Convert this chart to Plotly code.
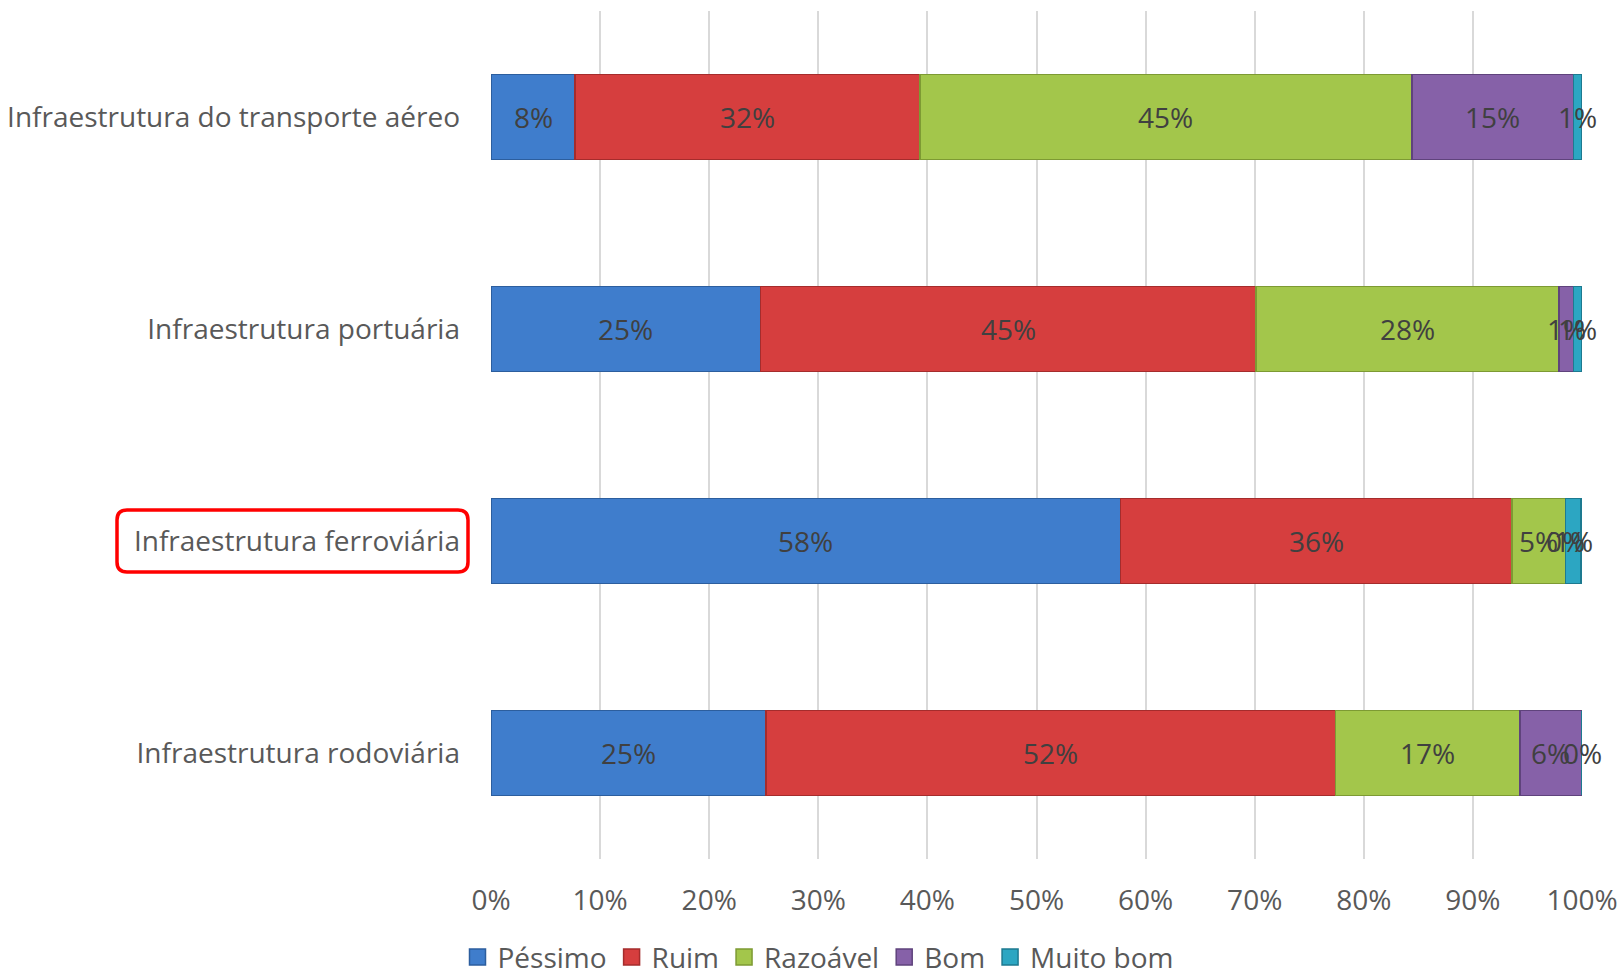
import plotly.graph_objects as go

# Survey: perceived quality of transport infrastructure (share of answers)
categories = [
    "Infraestrutura do transporte aéreo",
    "Infraestrutura portuária",
    "Infraestrutura ferroviária",
    "Infraestrutura rodoviária",
]
series_names = ["Péssimo", "Ruim", "Razoável", "Bom", "Muito bom"]
pessimo = [0.077, 0.247, 0.577, 0.252]
ruim = [0.316, 0.454, 0.359, 0.522]
razoavel = [0.451, 0.278, 0.049, 0.169]
bom = [0.148, 0.013, 0.000, 0.057]
muito_bom = [0.008, 0.008, 0.014, 0.000]
x_ticks = [0, 0.1, 0.2, 0.3, 0.4, 0.5, 0.6, 0.7, 0.8, 0.9, 1.0]

series_values = [pessimo, ruim, razoavel, bom, muito_bom]
fills = ["#3F7DCC", "#D63E3E", "#A3C64B", "#8661A8", "#2CA6C2"]
edges = ["#2C5E9E", "#A52C2C", "#7D9A33", "#5F437C", "#1D7A90"]

FONT = "Open Sans"
TEXT = "#404040"
LABEL = "#595959"
FS = 28
W, H = 1621, 975
ML, MR, MT, MB = 491, 39, 11, 116

fig = go.Figure()
for name, vals, fc, ec in zip(series_names, series_values, fills, edges):
    fig.add_trace(go.Bar(
        y=categories, x=vals, name=name, orientation="h",
        marker=dict(color=fc, line=dict(color=ec, width=1.5)),
        hoverinfo="x+name", showlegend=False,
    ))
# legend entries with larger square swatches
for name, fc, ec in zip(series_names, fills, edges):
    fig.add_trace(go.Scatter(
        x=[None], y=[None], mode="markers", name=name,
        marker=dict(symbol="square", size=17, color=fc, line=dict(color=ec, width=1.5)),
    ))

# value labels centred on each stacked segment (also for zero-width ones)
annotations = []
for ci, cat in enumerate(categories):
    left = 0.0
    for vals in series_values:
        v = vals[ci]
        annotations.append(dict(
            x=left + v / 2, y=cat, xref="x", yref="y",
            text=f"{round(v * 100):.0f}%", showarrow=False,
            font=dict(family=FONT, size=FS, color=TEXT),
        ))
        left += v

# rounded red frame highlighting the railway category label
pw = W - ML - MR
ph = H - MT - MB
band = ph / len(categories)
x0, x1 = (117 - ML) / pw, (468 - ML) / pw
yc = 1
hy = 31 / band
rx, ry = 10 / pw, 10 / band
y0, y1 = yc - hy, yc + hy
path = (f"M {x0 + rx} {y0} L {x1 - rx} {y0} Q {x1} {y0} {x1} {y0 + ry} "
        f"L {x1} {y1 - ry} Q {x1} {y1} {x1 - rx} {y1} "
        f"L {x0 + rx} {y1} Q {x0} {y1} {x0} {y1 - ry} "
        f"L {x0} {y0 + ry} Q {x0} {y0} {x0 + rx} {y0} Z")

fig.update_layout(
    width=W, height=H,
    barmode="stack", bargap=0.6,
    paper_bgcolor="white", plot_bgcolor="white",
    margin=dict(l=ML, r=MR, t=MT, b=MB, autoexpand=False),
    font=dict(family=FONT, size=FS, color=TEXT),
    xaxis=dict(
        range=[0, 1.0], tickvals=x_ticks, tickformat=".0%",
        showgrid=True, gridcolor="#D9D9D9", gridwidth=1.5,
        zeroline=False, showline=False, automargin=False,
        ticklabeloverflow="allow",
        tickfont=dict(family=FONT, size=FS, color=LABEL),
        ticklabelstandoff=22,
    ),
    yaxis=dict(
        categoryorder="array", categoryarray=categories[::-1],
        showgrid=False, zeroline=False, showline=False, automargin=False,
        ticks="", ticklabelstandoff=30,
        tickfont=dict(family=FONT, size=FS, color=LABEL),
    ),
    legend=dict(
        orientation="h", xref="paper", yref="paper",
        x=(818 - ML) / pw, xanchor="center", y=-0.116, yanchor="middle",
        font=dict(family=FONT, size=FS, color=LABEL),
        traceorder="normal", itemsizing="trace",
        itemwidth=30, tracegroupgap=0,
    ),
    annotations=annotations,
    shapes=[dict(type="path", path=path, xref="paper", yref="y",
                 line=dict(color="#FF0000", width=3.5), layer="above")],
    showlegend=True,
)

fig.write_html("out.html")
